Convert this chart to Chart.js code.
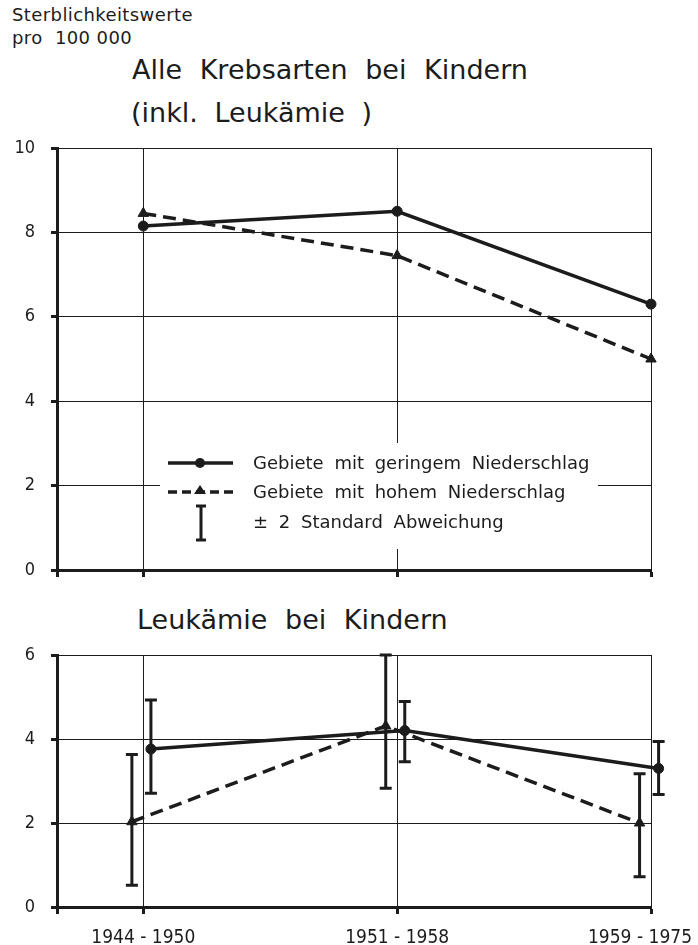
<!DOCTYPE html>
<html>
<head>
<meta charset="utf-8">
<script src="https://cdn.jsdelivr.net/npm/chart.js@4"></script>
<style>
  body { margin: 0; width: 698px; height: 945px; background: #fff; position: relative; overflow: hidden;
         font-family: "DejaVu Sans", sans-serif; color: #1c1c1c; }
  .t { position: absolute; white-space: pre; }
  canvas { position: absolute; left: 0; }
</style>
</head>
<body>
<div class="t" style="left:12px;top:3px;font-size:18px;line-height:23px;letter-spacing:0.4px">Sterblichkeitswerte
pro  100 000</div>
<div class="t" style="left:132px;top:54px;font-size:27px;word-spacing:9px">Alle Krebsarten bei Kindern</div>
<div class="t" style="left:131px;top:97px;font-size:27px;word-spacing:8px">(inkl. Leukämie )</div>
<div class="t" style="left:137px;top:604px;font-size:27px;word-spacing:9px">Leukämie bei Kindern</div>
<canvas id="c1" width="698" height="460" style="top:130px"></canvas>
<canvas id="c2" width="698" height="305" style="top:640px"></canvas>
<script>
const periods = ['1944 - 1950', '1951 - 1958', '1959 - 1975'];
const yTicksAll = [0, 2, 4, 6, 8, 10];
const yTicksLeuk = [0, 2, 4, 6];

// Alle Krebsarten bei Kindern
const allLowRain = [8.15, 8.5, 6.3];
const allHighRain = [8.45, 7.45, 5.0];

// Leukämie bei Kindern, mit +/- 2 Standardabweichung
const leukLowRain = [3.76, 4.2, 3.3];
const leukLowRainMin = [2.71, 3.46, 2.68];
const leukLowRainMax = [4.93, 4.89, 3.94];
const leukHighRain = [2.03, 4.31, 2.0];
const leukHighRainMin = [0.52, 2.83, 0.72];
const leukHighRainMax = [3.63, 6.0, 3.17];

const legendLabels = ['Gebiete mit geringem Niederschlag', 'Gebiete mit hohem Niederschlag', '± 2 Standard Abweichung'];

const INK = '#1c1c1c';
const FONT = '"DejaVu Sans", sans-serif';
const NARROW = '"DejaVu Sans Condensed", "DejaVu Sans", sans-serif';
const X_MIN = -0.34;
const SHIFT_LOW = 0.03;   // error bar series drawn slightly apart
const SHIFT_HIGH = -0.045;

function makeScales(yTicks, axisHeight) {
    return {
        x: {
            type: 'linear',
            min: X_MIN,
            max: periods.length - 1,
            afterBuildTicks: s => { s.ticks = [X_MIN, ...periods.map((p, i) => i)].map(v => ({ value: v })); },
            afterFit: s => { s.height = axisHeight; s.paddingLeft = 0; s.paddingRight = 0; },
            grid: { color: INK, lineWidth: 1, tickLength: 7, tickWidth: 3, tickColor: INK },
            border: { color: INK, width: 3 },
            ticks: { callback: () => '' }
        },
        y: {
            min: 0,
            max: yTicks[yTicks.length - 1],
            afterBuildTicks: s => { s.ticks = yTicks.map(v => ({ value: v })); },
            afterFit: s => { s.width = 57; s.paddingTop = 0; s.paddingBottom = 0; },
            grid: { color: INK, lineWidth: 1, tickLength: 6, tickWidth: 3, tickColor: INK },
            border: { color: INK, width: 3 },
            ticks: { color: INK, font: { family: NARROW, size: 18 }, padding: 16 }
        }
    };
}

function series(values, shift, dashed) {
    return {
        data: values.map((v, i) => ({ x: i + shift, y: v })),
        borderColor: INK,
        borderWidth: 3.5,
        borderDash: dashed ? [13, 7] : [],
        pointStyle: dashed ? 'triangle' : 'circle',
        pointRadius: dashed ? 6 : 5,
        pointHoverRadius: 14,
        pointBackgroundColor: INK,
        pointBorderColor: INK,
        pointBorderWidth: 1,
        tension: 0,
        clip: false
    };
}

const errorBars = {
    id: 'errorBars',
    afterDatasetsDraw(chart) {
        const { ctx } = chart;
        const y = chart.scales.y;
        chart.data.datasets.forEach((ds, di) => {
            if (!ds.errMin) return;
            chart.getDatasetMeta(di).data.forEach((pt, i) => {
                const top = y.getPixelForValue(ds.errMax[i]);
                const bot = y.getPixelForValue(ds.errMin[i]);
                ctx.save();
                ctx.strokeStyle = INK;
                ctx.lineWidth = 3;
                ctx.beginPath();
                ctx.moveTo(pt.x, top); ctx.lineTo(pt.x, bot);
                ctx.moveTo(pt.x - 6, top); ctx.lineTo(pt.x + 6, top);
                ctx.moveTo(pt.x - 6, bot); ctx.lineTo(pt.x + 6, bot);
                ctx.stroke();
                ctx.restore();
            });
        });
    }
};

const legendBox = {
    id: 'legendBox',
    beforeDatasetsDraw(chart) {
        const ctx = chart.ctx;
        ctx.save();
        ctx.fillStyle = '#fff';
        ctx.fillRect(160, 313, 438, 106);

        ctx.strokeStyle = INK;
        ctx.fillStyle = INK;
        ctx.lineWidth = 3.5;
        // solid sample
        ctx.beginPath(); ctx.moveTo(168, 333); ctx.lineTo(233, 333); ctx.stroke();
        ctx.beginPath(); ctx.arc(200, 333, 5, 0, Math.PI * 2); ctx.fill();
        // dashed sample
        ctx.setLineDash([9, 5]);
        ctx.beginPath(); ctx.moveTo(168, 362); ctx.lineTo(233, 362); ctx.stroke();
        ctx.setLineDash([]);
        ctx.beginPath(); ctx.moveTo(200, 355); ctx.lineTo(206, 364); ctx.lineTo(194, 364); ctx.closePath(); ctx.fill();
        // error bar sample
        ctx.lineWidth = 3;
        ctx.beginPath();
        ctx.moveTo(201, 376); ctx.lineTo(201, 410);
        ctx.moveTo(196, 376); ctx.lineTo(206, 376);
        ctx.moveTo(196, 410); ctx.lineTo(206, 410);
        ctx.stroke();

        ctx.font = '18px ' + FONT;
        ctx.textBaseline = 'alphabetic';
        if ('wordSpacing' in ctx) ctx.wordSpacing = '5px';
        ctx.fillText(legendLabels[0], 253, 339);
        ctx.fillText(legendLabels[1], 253, 368);
        ctx.fillText(legendLabels[2], 253, 398);
        ctx.restore();
    }
};

const periodLabels = {
    id: 'periodLabels',
    afterDraw(chart) {
        const { ctx, width } = chart;
        const x = chart.scales.x;
        ctx.save();
        ctx.fillStyle = INK;
        ctx.font = '19px ' + NARROW;
        ctx.textAlign = 'center';
        ctx.textBaseline = 'alphabetic';
        periods.forEach((p, i) => {
            const w = ctx.measureText(p).width;
            const px = Math.min(x.getPixelForValue(i), width - w / 2 - 6);
            ctx.fillText(p, px, x.top + 36);
        });
        ctx.restore();
    }
};

const common = {
    responsive: false,
    animation: false,
    events: [],
    plugins: { legend: { display: false }, tooltip: { enabled: false } }
};

new Chart(document.getElementById('c1'), {
    type: 'line',
    data: {
        datasets: [
            series(allLowRain, 0, false),
            series(allHighRain, 0, true)
        ]
    },
    options: Object.assign({}, common, {
        layout: { padding: { top: 18, right: 47, bottom: 0, left: 0 } },
        scales: makeScales(yTicksAll, 20)
    }),
    plugins: [legendBox]
});

new Chart(document.getElementById('c2'), {
    type: 'line',
    data: {
        datasets: [
            Object.assign(series(leukLowRain, SHIFT_LOW, false), { errMin: leukLowRainMin, errMax: leukLowRainMax }),
            Object.assign(series(leukHighRain, SHIFT_HIGH, true), { errMin: leukHighRainMin, errMax: leukHighRainMax })
        ]
    },
    options: Object.assign({}, common, {
        layout: { padding: { top: 12, right: 47, bottom: 0, left: 0 } },
        scales: makeScales(yTicksLeuk, 38)
    }),
    plugins: [errorBars, periodLabels]
});
</script>
</body>
</html>
